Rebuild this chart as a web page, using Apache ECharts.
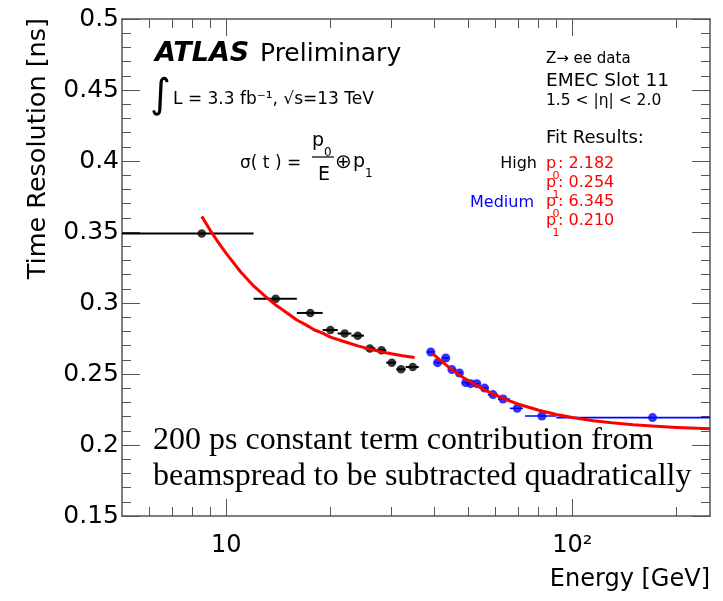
<!DOCTYPE html>
<html><head><meta charset="utf-8">
<script src="https://cdn.jsdelivr.net/npm/echarts@6/dist/echarts.min.js"></script>
<style>html,body{margin:0;padding:0;background:#fff}#c{width:723px;height:601px}</style>
</head><body><div id="c"></div>
<script>
// ---- data ----
const highE   = [8.5, 13.9, 17.5, 20.0, 22.0, 24.0, 26.0, 28.1, 30.1, 32.0, 34.6];
const highRes = [0.349, 0.303, 0.293, 0.281, 0.2785, 0.277, 0.268, 0.2667, 0.258, 0.2533, 0.2549];
const highLo  = [5, 12, 16, 19, 21, 23, 25, 27, 29, 31, 33];
const highHi  = [12, 16, 19, 21, 23, 25, 27, 29, 31, 33, 36];

const medE   = [39.0, 40.8, 43.1, 44.9, 47.2, 49.2, 50.9, 53.0, 55.8, 59.0, 63.1, 69.3, 81.7, 170.6];
const medRes = [0.2655, 0.258, 0.2613, 0.2531, 0.2507, 0.2439, 0.2432, 0.2432, 0.2401, 0.2355, 0.2324, 0.2258, 0.2204, 0.2193];
const medLo  = [38, 40, 42, 44, 46, 48, 50, 52, 54, 57, 61, 66, 73, 90];
const medHi  = [40, 42, 44, 46, 48, 50, 52, 54, 57, 61, 66, 72, 90, 250];

const fitHighE   = [8.5, 9, 9.5, 10, 11, 12, 13, 14, 15, 16, 17, 18, 19, 20, 22, 24, 26, 28, 30, 32, 35];
const fitHighRes = [0.361, 0.351, 0.3425, 0.335, 0.322, 0.312, 0.3045, 0.298, 0.293, 0.288, 0.2846, 0.281, 0.2788, 0.276,
                    0.2727, 0.2698, 0.2675, 0.2657, 0.2642, 0.263, 0.2616];
const fitMedE    = [39.5, 42, 45, 48, 52, 56, 60, 65, 70, 80, 90, 100, 115, 130, 150, 170, 200, 250];
const fitMedRes  = [0.2644, 0.2587, 0.2529, 0.2481, 0.2429, 0.2386, 0.2351, 0.2316, 0.2287, 0.2245, 0.2215, 0.2194,
                    0.2171, 0.2156, 0.2142, 0.2133, 0.2124, 0.2115];

const xMin = 5, xMax = 250;
const xMajorTicks = [10, 100];
const xTickLabels = ['10', '10²'];
const xMinorTicks = [6, 7, 8, 9, 20, 30, 40, 50, 60, 70, 80, 90, 200];
const yMin = 0.15, yMax = 0.5, yStep = 0.05;
const yTickLabels = ['0.15', '0.2', '0.25', '0.3', '0.35', '0.4', '0.45', '0.5'];

// ---- chart ----
const chart = echarts.init(document.getElementById('c'), null, {renderer: 'canvas', width: 723, height: 601});
const L10 = Math.log10;
const axisColor = '#555';
const SANS = '"DejaVu Sans", sans-serif';
const SERIF = '"Liberation Serif", "Times New Roman", serif';

function pairs(a, b) { return a.map((v, i) => [v, b[i]]); }
function errData(e, r, lo, hi) { return e.map((v, i) => [v, r[i], lo[i], hi[i]]); }

function tickAxis(pos, ticks, len, showLine, withLabels) {
  return {
    type: 'value', gridIndex: 0, position: pos, min: L10(xMin), max: L10(xMax),
    axisLine: {show: showLine, onZero: false, lineStyle: {color: axisColor, width: 1.5}},
    axisTick: {show: true, inside: true, length: len, customValues: ticks.map(L10),
               lineStyle: {color: axisColor, width: 1}},
    axisLabel: withLabels ? {
      show: true, customValues: xMajorTicks.map(L10), margin: 18,
      fontSize: 24, fontFamily: SANS, color: '#000',
      formatter: v => {
        for (let i = 0; i < xMajorTicks.length; i++) if (Math.abs(L10(xMajorTicks[i]) - v) < 1e-6) return xTickLabels[i];
        return '';
      }
    } : {show: false},
    splitLine: {show: false}, minorTick: {show: false}
  };
}

function yAxisDef(pos, withLabels) {
  return {
    type: 'value', gridIndex: 0, position: pos, min: yMin, max: yMax, interval: yStep,
    axisLine: {show: true, onZero: false, lineStyle: {color: axisColor, width: 1.5}},
    axisTick: {show: true, inside: true, length: 18, lineStyle: {color: axisColor, width: 1}},
    minorTick: {show: true, splitNumber: 5, length: 9, lineStyle: {color: axisColor, width: 1}},
    axisLabel: withLabels ? {
      show: true, margin: 3, fontSize: 25, fontFamily: SANS, color: '#000',
      formatter: v => yTickLabels[Math.round((v - yMin) / yStep)]
    } : {show: false},
    splitLine: {show: false}, minorSplitLine: {show: false}
  };
}

function errSeries(data, color, width) {
  return {
    type: 'custom', xAxisIndex: 0, yAxisIndex: 0, data: data, encode: {x: 0, y: 1}, z: 2,
    renderItem: (params, api) => {
      const y = api.value(1);
      const a = api.coord([api.value(2), y]);
      const b = api.coord([api.value(3), y]);
      return {type: 'line', shape: {x1: a[0], y1: a[1], x2: b[0], y2: b[1]},
              style: {stroke: color, lineWidth: width}};
    }
  };
}

function txt(x, y, text, size, opts) {
  opts = opts || {};
  return {
    type: 'text', x: x, y: y, z: 100, rotation: opts.rotation || 0,
    style: {
      text: text, fill: opts.color || '#000',
      font: (opts.style || '') + ' ' + (opts.weight || 'normal') + ' ' + size + 'px ' + (opts.family || SANS),
      align: opts.align || 'left', verticalAlign: 'middle'
    }
  };
}

const red = '#ff0000', blue = '#0000ff';
const subX = 552.5, valX = 558;
const graphics = [
  txt(155, 54, 'ATLAS', 27, {style: 'italic', weight: 'bold'}),
  txt(260, 54, 'Preliminary', 25),
  txt(150, 97, '∫', 40),
  txt(173, 100, 'L = 3.3 fb⁻¹, √s=13 TeV', 17),
  txt(240, 164, 'σ( t ) =', 17),
  txt(312, 141, 'p', 19), txt(324, 153, '0', 12),
  {type: 'line', z: 100, shape: {x1: 312, y1: 157, x2: 334, y2: 157}, style: {stroke: '#000', lineWidth: 1.2}},
  txt(324, 175, 'E', 19, {align: 'center'}),
  txt(335, 163, '⊕', 20),
  txt(353, 162, 'p', 19), txt(365, 174, '1', 12),
  txt(546, 59, 'Z→ ee data', 15),
  txt(546, 81, 'EMEC Slot 11', 18.5),
  txt(546, 101, '1.5 < |η| < 2.0', 15.5),
  txt(546, 138, 'Fit Results:', 18),
  txt(537, 164, 'High', 16, {align: 'right'}),
  txt(534, 203, 'Medium', 16, {align: 'right', color: blue}),
  txt(546, 164, 'p', 16, {color: red}), txt(subX, 176, '0', 11, {color: red}), txt(valX, 164, ': 2.182', 16, {color: red}),
  txt(546, 183, 'p', 16, {color: red}), txt(subX, 195, '1', 11, {color: red}), txt(valX, 183, ': 0.254', 16, {color: red}),
  txt(546, 202, 'p', 16, {color: red}), txt(subX, 214, '0', 11, {color: red}), txt(valX, 202, ': 6.345', 16, {color: red}),
  txt(546, 221, 'p', 16, {color: red}), txt(subX, 233, '1', 11, {color: red}), txt(valX, 221, ': 0.210', 16, {color: red}),
  txt(153, 441, '200 ps constant term contribution from', 32, {family: SERIF}),
  txt(153, 477, 'beamspread to be subtracted quadratically', 32, {family: SERIF}),
  txt(710, 580, 'Energy [GeV]', 24, {align: 'right'}),
  txt(38, 18, 'Time Resolution [ns]', 25.5, {align: 'right', rotation: Math.PI / 2})
];

const option = {
  animation: false,
  backgroundColor: '#fff',
  grid: [{left: 122, right: 13, top: 19, bottom: 85, containLabel: false, outerBoundsMode: 'none'}],
  xAxis: [
    {type: 'log', logBase: 10, gridIndex: 0, min: xMin, max: xMax, position: 'bottom', show: false},
    tickAxis('bottom', xMajorTicks, 17, true, true),
    tickAxis('bottom', xMinorTicks, 9, false, false),
    tickAxis('top', xMajorTicks, 17, true, false),
    tickAxis('top', xMinorTicks, 9, false, false)
  ],
  yAxis: [yAxisDef('left', true), yAxisDef('right', false)],
  series: [
    errSeries(errData(highE, highRes, highLo, highHi), '#000', 2),
    errSeries(errData(medE, medRes, medLo, medHi), blue, 1.6),
    {type: 'scatter', xAxisIndex: 0, yAxisIndex: 0, data: pairs(highE, highRes), symbol: 'circle', symbolSize: 8.5,
     itemStyle: {color: '#000'}, z: 3},
    {type: 'scatter', xAxisIndex: 0, yAxisIndex: 0, data: pairs(medE, medRes), symbol: 'circle', symbolSize: 9,
     itemStyle: {color: blue}, z: 3},
    {type: 'line', xAxisIndex: 0, yAxisIndex: 0, data: pairs(fitHighE, fitHighRes), smooth: false,
     showSymbol: false, symbol: 'none', lineStyle: {color: red, width: 3, join: 'round'}, z: 4},
    {type: 'line', xAxisIndex: 0, yAxisIndex: 0, data: pairs(fitMedE, fitMedRes), smooth: false,
     showSymbol: false, symbol: 'none', lineStyle: {color: red, width: 3, join: 'round'}, z: 4}
  ],
  graphic: graphics
};
chart.setOption(option);
</script></body></html>
